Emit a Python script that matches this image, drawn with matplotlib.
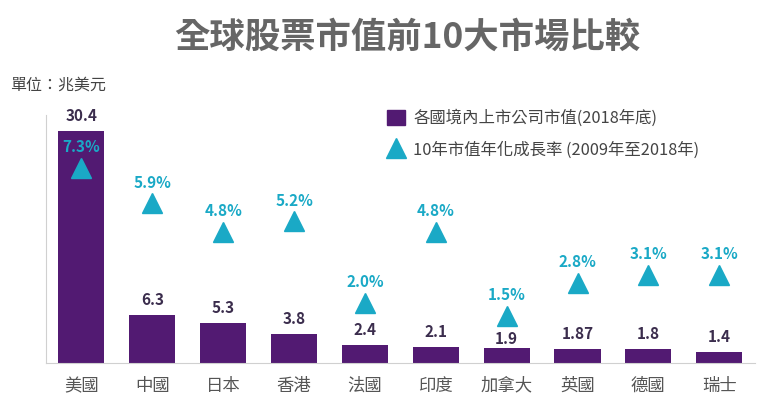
import matplotlib.pyplot as plt
from matplotlib.lines import Line2D
from matplotlib.patches import Patch

plt.rcParams['font.family'] = ['Noto Sans CJK TC', 'DejaVu Sans']

markets = ["美國", "中國", "日本", "香港", "法國", "印度", "加拿大", "英國", "德國", "瑞士"]
cap = [30.4, 6.3, 5.3, 3.8, 2.4, 2.1, 1.9, 1.87, 1.8, 1.4]
cap_labels = ["30.4", "6.3", "5.3", "3.8", "2.4", "2.1", "1.9", "1.87", "1.8", "1.4"]
growth = [7.3, 5.9, 4.8, 5.2, 2.0, 4.8, 1.5, 2.8, 3.1, 3.1]

purple = "#521a72"
cyan = "#1aa9c6"

fig = plt.figure(figsize=(7.6, 4.12), dpi=100)
ax = fig.add_axes([0.0605, 0.119, 0.9325, 0.602])
x = range(len(markets))
ax.bar(x, cap, width=0.65, color=purple, zorder=2)
for i, v in enumerate(cap):
    # 加拿大 label sits lower so it clears the triangle above it
    off = 1 if markets[i] == "加拿大" else 5
    ax.annotate(cap_labels[i], (i, v), xytext=(0, off), textcoords="offset points",
                ha="center", va="bottom", fontsize=11, fontweight="bold", color="#3b2d4d")
ax.set_xlim(-0.5, 9.5)
ax.set_ylim(0, 32.5)
ax.set_yticks([])
ax.set_xticks(list(x))
ax.set_xticklabels(markets, fontsize=12.5, color="#555555")
ax.tick_params(axis="x", length=0, pad=10)
for s in ["top", "right"]:
    ax.spines[s].set_visible(False)
ax.spines["left"].set_color("#d0d0d0")
ax.spines["bottom"].set_color("#d0d0d0")

ax2 = ax.twinx()
ax2.plot(list(x), growth, linestyle="none", marker="^", markersize=14, color=cyan, zorder=3)
for i, g in enumerate(growth):
    ax2.annotate(f"{g:.1f}%", (i, g), xytext=(0, 9), textcoords="offset points",
                 ha="center", va="bottom", fontsize=11, fontweight="bold", color=cyan)
ax2.set_ylim(-0.353, 9.37)
ax2.set_yticks([])
for s in ["top", "right", "left", "bottom"]:
    ax2.spines[s].set_visible(False)

fig.text(0.536, 0.91, "全球股票市值前10大市場比較", ha="center", va="center",
         fontsize=25.5, fontweight="bold", color="#666666")
fig.text(0.013, 0.793, "單位：兆美元", ha="left", va="center", fontsize=11.5, color="#444444")

handles = [Patch(facecolor=purple, edgecolor=purple),
           Line2D([], [], linestyle="none", marker="^", markersize=14, color=cyan)]
labels = ["各國境內上市公司市值(2018年底)", "10年市值年化成長率 (2009年至2018年)"]
fig.legend(handles, labels, loc="upper left", bbox_to_anchor=(0.49, 0.77), frameon=False,
           fontsize=11.8, labelcolor="#444444", handlelength=1.1, handleheight=1.1,
           handletextpad=0.5, labelspacing=0.85)

plt.savefig("out.png", dpi=100)
